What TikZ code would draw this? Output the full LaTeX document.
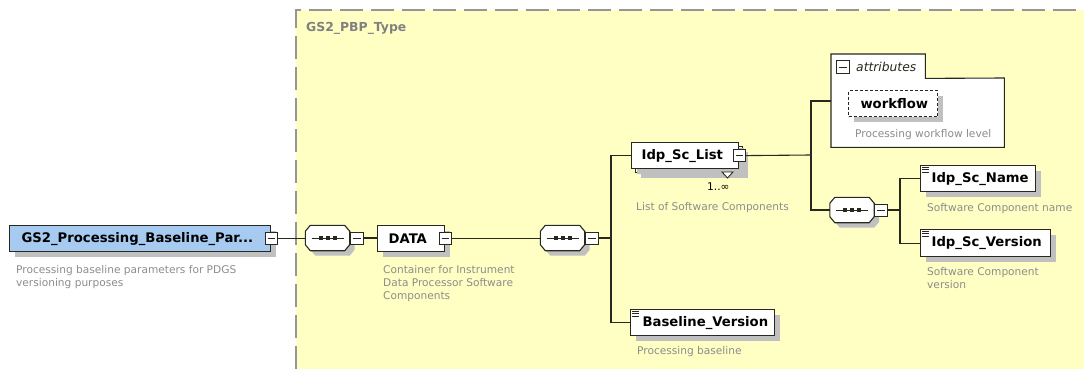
\documentclass[tikz,border=0pt]{standalone}
\usepackage{fontspec}
\setmainfont{DejaVu Sans}
\usetikzlibrary{shadows}
\definecolor{yel}{RGB}{255,255,196}
\definecolor{rootblue}{RGB}{166,202,240}
\definecolor{desctext}{RGB}{140,140,140}
\definecolor{ln}{RGB}{40,40,30}
\definecolor{shd}{RGB}{192,192,192}
\definecolor{dashg}{RGB}{150,150,150}
\definecolor{typeg}{RGB}{128,128,128}
\newcommand\seqdraw[1]{%
  \fill[shd, transform canvas={shift={(5pt,-5pt)}}]
    ([xshift=5pt]#1.north west) -- ([xshift=-5pt]#1.north east) -- ([yshift=-6pt]#1.north east)
    -- ([yshift=6pt]#1.south east) -- ([xshift=-5pt]#1.south east) -- ([xshift=5pt]#1.south west)
    -- ([yshift=6pt]#1.south west) -- ([yshift=-6pt]#1.north west) -- cycle;
  \filldraw[fill=white, draw=ln, line width=1.1pt]
    ([xshift=5pt]#1.north west) -- ([xshift=-5pt]#1.north east) -- ([yshift=-6pt]#1.north east)
    -- ([yshift=6pt]#1.south east) -- ([xshift=-5pt]#1.south east) -- ([xshift=5pt]#1.south west)
    -- ([yshift=6pt]#1.south west) -- ([yshift=-6pt]#1.north west) -- cycle;
  \draw[ln, line width=1pt] ([xshift=-16pt]#1.center) -- ([xshift=16pt]#1.center);
  \foreach \q in {-7,0,7} {\fill[ln] ([xshift=\q pt]#1.center) +(-2,-2) rectangle +(2,2);}%
}
\begin{document}
\begin{tikzpicture}[x=1pt,y=-1pt,
  conn/.style={draw=ln, line width=1.1pt},
  shadowed/.style={general shadow={fill=shd, shadow xshift=5pt, shadow yshift=-5pt}},
  elem/.style={draw=ln, line width=1.2pt, fill=white, anchor=north west, inner ysep=0pt,
    align=left, font=\fontsize{13.2}{15}\selectfont\bfseries, shadowed},
  mbox/.style={draw=ln, line width=1pt, fill=white, minimum size=12pt, inner sep=0pt,
    path picture={\draw[ln, line width=0.9pt] ([xshift=2.5pt]path picture bounding box.west)
      -- ([xshift=-2.5pt]path picture bounding box.east);}},
  seq/.style={rectangle, draw=none, fill=none, minimum width=44pt, minimum height=25pt, inner sep=0pt},
  desc/.style={anchor=north west, inner sep=0pt, align=left, text=desctext,
    font=\fontsize{10.6}{13.3}\selectfont},
  icon/.style={draw=ln, line width=0.6pt}]
\useasboundingbox (0,0) rectangle (1084,369);
% type container
\fill[yel] (296,10) rectangle (1084,369);
\draw[dashg, line width=2pt, dash pattern=on 23pt off 8pt] (296,369) -- (296,10) -- (1084,10);
\node[anchor=west, inner sep=0pt, text=typeg, font=\fontsize{12.4}{14}\selectfont\bfseries]
  (typelabel) at (306,28) {GS2\_PBP\_Type};

% root element
\node[elem, fill=rootblue, minimum width=261pt, minimum height=26pt, text width=237pt,
  inner xsep=12pt] (root) at (9,225) {\mbox{GS2\_Processing\_Baseline\_Par...}};
\node[mbox] (rootm) at (root.east) {};
\node[desc] (rootd) at (16,265) {Processing baseline parameters for PDGS\\versioning purposes};

% first sequence
\node[seq] (seqA) at (327.5,238) {};
\seqdraw{seqA}
\node[mbox, anchor=west, minimum width=13pt] (seqAm) at (seqA.east) {};

% DATA
\node[elem, minimum width=67pt, minimum height=26pt, text width=45pt, inner xsep=11pt]
  (data) at (377,225) {\mbox{DATA}};
\node[mbox] (datam) at (data.east) {};
\node[desc] (datad) at (383,265) {Container for Instrument\\Data Processor Software\\Components};

% second sequence
\node[seq] (seqB) at (562.5,238) {};
\seqdraw{seqB}
\node[mbox, anchor=west, minimum width=13pt] (seqBm) at (seqB.east) {};
\coordinate (j1) at (611,238);

% Idp_Sc_List (repeated)
\node[elem, minimum width=107pt, minimum height=26pt, text width=87pt, inner xsep=10pt]
  (listback) at (635,146) {};
\node[elem, general shadow={}, minimum width=107pt, minimum height=26pt, text width=87pt,
  inner xsep=10pt] (list) at (631,142) {\mbox{Idp\_Sc\_List}};
\node[mbox] (listm) at (list.east) {};
\draw[ln, line width=0.9pt, fill=white] (722,172) -- (733,172) -- (727.5,178) -- cycle;
\node[anchor=base west, inner sep=0pt, font=\fontsize{10.6}{13}\selectfont]
  (listcard) at (707,190) {1..∞};
\node[desc] (listd) at (636,202) {List of Software Components};
\coordinate (j2) at (811,155);

% Baseline_Version
\node[elem, minimum width=144pt, minimum height=26pt, text width=120pt, inner xsep=12pt]
  (bver) at (630,309) {\mbox{Baseline\_Version}};
\foreach \q in {2.5,4.7,6.9} \draw[icon] ([shift={(2,\q)}]bver.north west) -- ++(7,0);
\node[desc] (bverd) at (637,346) {Processing baseline};

% attributes
\node[draw=none, fill=white, anchor=north west, minimum width=94pt, minimum height=24pt,
  inner sep=0pt] (attrtab) at (831,54) {};
\node[draw=none, fill=white, anchor=north west, minimum width=173pt, minimum height=69pt,
  inner sep=0pt] (attrbox) at (831,78) {};
\draw[ln, line width=1.1pt] (attrtab.north west) -- (attrtab.north east) -- (attrtab.south east)
  -- (attrbox.north east) -- (attrbox.south east) -- (attrbox.south west) -- cycle;
\node[mbox, minimum size=13pt] (attrm) at (843,67.5) {};
\node[anchor=west, inner sep=0pt, text=ln, font=\fontsize{12.3}{14}\selectfont\itshape]
  (attrlabel) at (856,67) {attributes};
\node[elem, dashed, dash pattern=on 3pt off 2pt, line width=1pt, minimum width=89pt,
  minimum height=26pt, text width=65pt, inner xsep=12pt] (wf) at (848,90) {\mbox{workflow}};
\node[desc] (wfd) at (855,129) {Processing workflow level};
\coordinate (attrin) at (831,101);

% third sequence
\node[seq] (seqC) at (852,210) {};
\seqdraw{seqC}
\node[mbox, anchor=west, minimum width=13pt] (seqCm) at (seqC.east) {};
\coordinate (j3) at (900,210);

% Idp_Sc_Name / Idp_Sc_Version
\node[elem, minimum width=115pt, minimum height=26pt, text width=93pt, inner xsep=11pt]
  (name) at (920,165) {\mbox{Idp\_Sc\_Name}};
\foreach \q in {2.5,4.7,6.9} \draw[icon] ([shift={(2,\q)}]name.north west) -- ++(7,0);
\node[desc] (named) at (927,203) {Software Component name};
\node[elem, minimum width=130pt, minimum height=27pt, text width=108pt, inner xsep=11pt]
  (ver) at (920,229) {\mbox{Idp\_Sc\_Version}};
\foreach \q in {2.5,4.7,6.9} \draw[icon] ([shift={(2,\q)}]ver.north west) -- ++(7,0);
\node[desc] (verd) at (927,267) {Software Component\\version};

% connectors
\draw[conn] (rootm.east) -- (rootm.east -| seqA.west);
\draw[conn] (seqAm.east) -- (seqAm.east -| data.west);
\draw[conn] (datam.east) -- (datam.east -| seqB.west);
\draw[conn] (seqBm.east) -- (j1);
\draw[conn] (list.west) -| (j1) |- (bver.west);
\draw[conn] (listm.east) -- (j2);
\draw[conn] (attrin) -| (j2) |- (seqC.west);
\draw[conn] (seqCm.east) -- (j3);
\draw[conn] (name.west) -| (j3) |- (ver.west);
\end{tikzpicture}
\end{document}
